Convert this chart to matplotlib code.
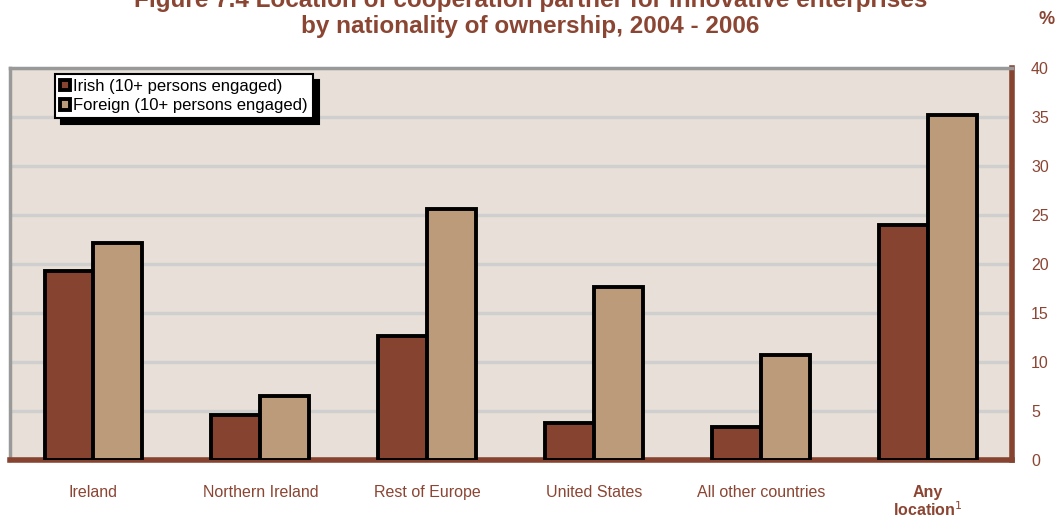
import numpy as np
import matplotlib
matplotlib.use('Agg')
import matplotlib.pyplot as plt

# Cooperation partner location, % of innovative enterprises
locations = ["Ireland", "Northern Ireland", "Rest of Europe", "United States",
             "All other countries", "Any\nlocation$^{1}$"]
irish = [19.3, 4.6, 12.7, 3.8, 3.4, 24.0]
foreign = [22.1, 6.5, 25.6, 17.7, 10.7, 35.2]
y_ticks = [0, 5, 10, 15, 20, 25, 30, 35, 40]

brown = '#86432F'
tan = '#BC9B7B'
text_col = '#8B4533'

plt.rcParams['font.family'] = ['Liberation Sans', 'DejaVu Sans']

fig = plt.figure(figsize=(10.61, 5.19), dpi=100)
ax = fig.add_axes([0.0094, 0.1137, 0.944, 0.755])
ax.set_facecolor('#E8E0D8')

x = np.arange(len(locations))
w = 0.293
ax.bar(x - w / 2, irish, w, color=brown, edgecolor='black', linewidth=2.8,
       label='Irish (10+ persons engaged)', zorder=3)
ax.bar(x + w / 2, foreign, w, color=tan, edgecolor='black', linewidth=2.8,
       label='Foreign (10+ persons engaged)', zorder=3)

ax.set_xlim(-0.5, len(locations) - 0.5)
ax.set_ylim(0, 40)
ax.set_yticks(y_ticks)
ax.yaxis.tick_right()
ax.tick_params(axis='y', length=0, pad=14, labelsize=11.5, labelcolor=text_col)
ax.set_yticklabels([str(t) for t in y_ticks])
ax.grid(axis='y', color='#CFCFCF', linewidth=2.5, zorder=0)

ax.set_xticks(x)
ax.set_xticklabels([])
ax.tick_params(axis='x', length=0)
for i, name in enumerate(locations):
    if i == len(locations) - 1:
        ax.text(i, -2.6, name, ha='center', va='top', fontsize=11.5,
                color=text_col, fontweight='bold', linespacing=1.0)
    else:
        ax.text(i, -2.6, name, ha='center', va='top', fontsize=11.5, color=text_col)

for side in ['left', 'top']:
    ax.spines[side].set_color('#999999')
    ax.spines[side].set_linewidth(2.5)
for side in ['bottom', 'right']:
    ax.spines[side].set_color(brown)
    ax.spines[side].set_linewidth(4)

leg = ax.legend(loc='upper left', bbox_to_anchor=(0.045, 0.985), frameon=True,
                fancybox=False, shadow={'color': 'black', 'alpha': 1.0, 'ox': 4, 'oy': -4},
                edgecolor='black', framealpha=1, fontsize=12,
                handlelength=0.6, handleheight=0.6, handletextpad=0.2,
                borderpad=0.3, labelspacing=0.25, borderaxespad=0)
leg.get_frame().set_linewidth(1.5)

fig.text(0.5, 1.0, "Figure 7.4 Location of cooperation partner for innovative enterprises",
         ha='center', va='center', fontsize=17.5, fontweight='bold', color=text_col)
fig.text(0.5, 0.948, "by nationality of ownership, 2004 - 2006",
         ha='center', va='center', fontsize=17.5, fontweight='bold', color=text_col)
fig.text(0.986, 0.962, "%", ha='center', va='center', fontsize=13,
         fontweight='bold', color=text_col)

fig.savefig('out.png', dpi=100)
